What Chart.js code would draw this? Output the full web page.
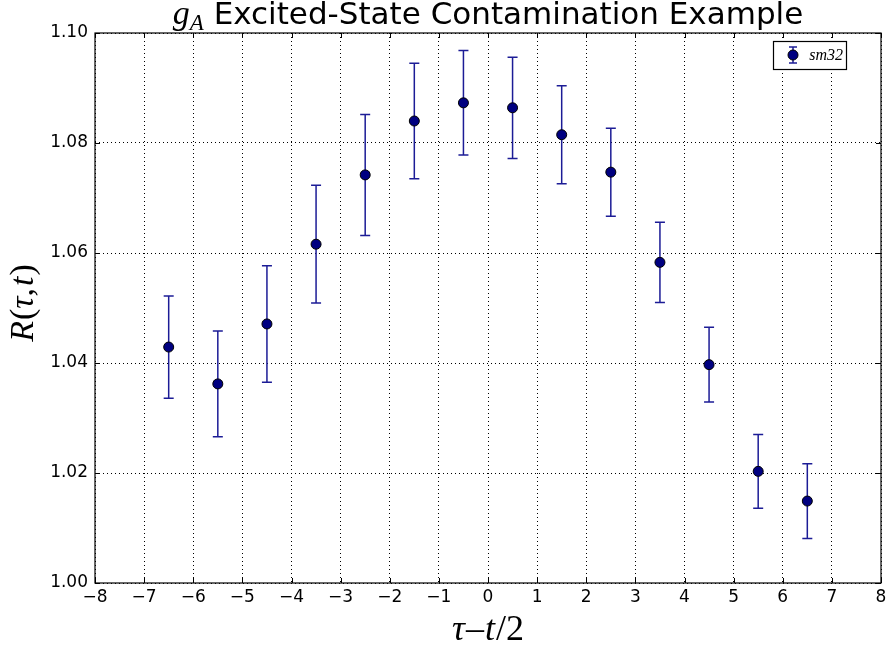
<!DOCTYPE html>
<html><head><meta charset="utf-8">
<script src="https://cdn.jsdelivr.net/npm/chart.js@4/dist/chart.umd.min.js"></script>
<style>html,body{margin:0;padding:0;background:#fff}#wrap{width:891px;height:653px;position:relative}</style>
</head><body><div id="wrap"><canvas id="c"></canvas></div>
<script>
// ---- data ----
const tauMinusHalfT = [-6.5,-5.5,-4.5,-3.5,-2.5,-1.5,-0.5,0.5,1.5,2.5,3.5,4.5,5.5,6.5];
const ratioValues   = [1.0429,1.0362,1.0471,1.0616,1.0742,1.0840,1.0873,1.0864,1.0815,1.0747,1.0583,1.0397,1.0203,1.0149];
const ratioErrors   = [0.0093,0.0096,0.0106,0.0107,0.0110,0.0105,0.0095,0.0092,0.0089,0.0080,0.0073,0.0068,0.0067,0.0068];
const xTickValues   = [-8,-7,-6,-5,-4,-3,-2,-1,0,1,2,3,4,5,6,7,8];
const yTickValues   = [1.00,1.02,1.04,1.06,1.08,1.10];
const seriesLabel   = 'sm32';
const titleMain     = ' Excited-State Contamination Example';

const NAVY = '#000080';
const BAR = '#1c1c96';
const SANS = '"DejaVu Sans", sans-serif';
const SERIF = '"Liberation Serif", "DejaVu Serif", serif';

function fmt(v, d){ const s = Math.abs(v).toFixed(d); return (v < 0 ? '\u2212' : '') + s; }

function drawRuns(ctx, runs, x, y){
  let cx = x;
  for (const r of runs){ ctx.font = r.font; cx += (r.pre||0); ctx.fillText(r.t, cx, y + (r.dy||0)); cx += ctx.measureText(r.t).width + (r.gap||0); }
  return cx - x;
}
function runsWidth(ctx, runs){ let w=0; for (const r of runs){ ctx.font=r.font; w += (r.pre||0) + ctx.measureText(r.t).width + (r.gap||0);} return w; }

const errorBars = {
  id: 'errorBars',
  beforeDatasetsDraw(chart){
    const {ctx, scales:{x, y}} = chart;
    ctx.save();
    ctx.strokeStyle = BAR; ctx.lineWidth = 1.5;
    tauMinusHalfT.forEach((t, i) => {
      const px = x.getPixelForValue(t);
      const top = y.getPixelForValue(ratioValues[i] + ratioErrors[i]);
      const bot = y.getPixelForValue(ratioValues[i] - ratioErrors[i]);
      ctx.beginPath();
      ctx.moveTo(px, top); ctx.lineTo(px, bot);
      ctx.moveTo(px-5, top); ctx.lineTo(px+5, top);
      ctx.moveTo(px-5, bot); ctx.lineTo(px+5, bot);
      ctx.stroke();
    });
    ctx.restore();
  }
};

const decorations = {
  id: 'decorations',
  afterDraw(chart){
    const {ctx, chartArea:a, scales:{x, y}} = chart;
    ctx.save();
    ctx.strokeStyle = '#000'; ctx.lineWidth = 1.2;
    ctx.strokeRect(a.left, a.top, a.right - a.left, a.bottom - a.top);
    ctx.lineWidth = 1;
    ctx.beginPath();
    xTickValues.forEach(v => { const p = Math.round(x.getPixelForValue(v)) + 0.5;
      ctx.moveTo(p, a.bottom); ctx.lineTo(p, a.bottom - 5);
      ctx.moveTo(p, a.top); ctx.lineTo(p, a.top + 5); });
    yTickValues.forEach(v => { const p = Math.round(y.getPixelForValue(v)) + 0.5;
      ctx.moveTo(a.left, p); ctx.lineTo(a.left + 5, p);
      ctx.moveTo(a.right, p); ctx.lineTo(a.right - 5, p); });
    ctx.stroke();

    ctx.fillStyle = '#000'; ctx.textBaseline = 'alphabetic'; ctx.textAlign = 'left';
    const cx = (a.left + a.right)/2;
    // title
    const titleRuns = [
      {t:'g', font:'italic 34px ' + SERIF},
      {t:'A', font:'italic 23px ' + SERIF, dy: 6},
      {t:titleMain, font:'31px ' + SANS}
    ];
    const tw = runsWidth(ctx, titleRuns);
    drawRuns(ctx, titleRuns, cx - tw/2, 24);

    // x label
    const xl = [
      {t:'\u03C4', font:'italic 36px ' + SERIF},
      {t:'\u2013', font:'36px ' + SERIF, pre: 1, gap: 1},
      {t:'t', font:'italic 36px ' + SERIF},
      {t:'/2', font:'36px ' + SERIF, pre: 1}
    ];
    const xw = runsWidth(ctx, xl);
    drawRuns(ctx, xl, cx - xw/2, 640);

    // y label
    const yl = [
      {t:'R', font:'italic 34px ' + SERIF, gap: 1},
      {t:'(', font:'34px ' + SERIF},
      {t:'\u03C4', font:'italic 34px ' + SERIF},
      {t:',', font:'34px ' + SERIF, gap: 2},
      {t:'t', font:'italic 34px ' + SERIF, gap: 1},
      {t:')', font:'34px ' + SERIF}
    ];
    const yw = runsWidth(ctx, yl);
    ctx.save();
    ctx.translate(33, 303);
    ctx.rotate(-Math.PI/2);
    drawRuns(ctx, yl, -yw/2, 0);
    ctx.restore();

    // legend
    const lx = 773, ly = 41, lw = 73, lh = 28;
    ctx.fillStyle = '#fff'; ctx.fillRect(lx, ly, lw, lh);
    ctx.strokeStyle = '#000'; ctx.lineWidth = 1.2; ctx.strokeRect(lx+0.5, ly+0.5, lw, lh);
    const mx = 793, my = 55;
    ctx.strokeStyle = BAR; ctx.lineWidth = 1.5;
    ctx.beginPath();
    ctx.moveTo(mx, my-8); ctx.lineTo(mx, my+8);
    ctx.moveTo(mx-4, my-8); ctx.lineTo(mx+4, my-8);
    ctx.moveTo(mx-4, my+8); ctx.lineTo(mx+4, my+8);
    ctx.stroke();
    ctx.beginPath(); ctx.arc(mx, my, 5, 0, Math.PI*2);
    ctx.fillStyle = NAVY; ctx.fill(); ctx.strokeStyle = '#000'; ctx.lineWidth = 1; ctx.stroke();
    ctx.fillStyle = '#000'; ctx.font = 'italic 16px ' + SERIF; ctx.textAlign = 'right';
    ctx.fillText(seriesLabel, 843, 60);
    ctx.restore();
  }
};

const points = tauMinusHalfT.map((t, i) => ({x: t, y: ratioValues[i]}));

new Chart(document.getElementById('c'), {
  type: 'scatter',
  data: { datasets: [{ label: seriesLabel, data: points, pointRadius: 5, pointHoverRadius: 5,
    pointBackgroundColor: NAVY, pointBorderColor: '#000', pointBorderWidth: 1, showLine: false }] },
  options: {
    responsive: true, maintainAspectRatio: false, animation: false,
    layout: { padding: { top: 33, right: 10, left: 0, bottom: 0 } },
    plugins: { legend: { display: false }, title: { display: false }, tooltip: { enabled: false } },
    scales: {
      x: { type: 'linear', min: -8, max: 8,
        afterBuildTicks: s => { s.ticks = xTickValues.map(v => ({value: v})); },
        afterFit: s => { s.height = 70; },
        ticks: { color: '#000', font: { family: SANS, size: 17 }, padding: 4, maxRotation: 0, autoSkip: false,
          callback: v => fmt(v, 0) },
        grid: { color: '#000', lineWidth: 1, drawTicks: false },
        border: { display: false, dash: [1, 3] } },
      y: { type: 'linear', min: 1.0, max: 1.1,
        afterBuildTicks: s => { s.ticks = yTickValues.map(v => ({value: v})); },
        afterFit: s => { s.width = 95; },
        ticks: { color: '#000', font: { family: SANS, size: 17 }, padding: 7, autoSkip: false,
          callback: v => fmt(v, 2) },
        grid: { color: '#000', lineWidth: 1, drawTicks: false },
        border: { display: false, dash: [1, 3] } }
    }
  },
  plugins: [errorBars, decorations]
});
</script></body></html>
